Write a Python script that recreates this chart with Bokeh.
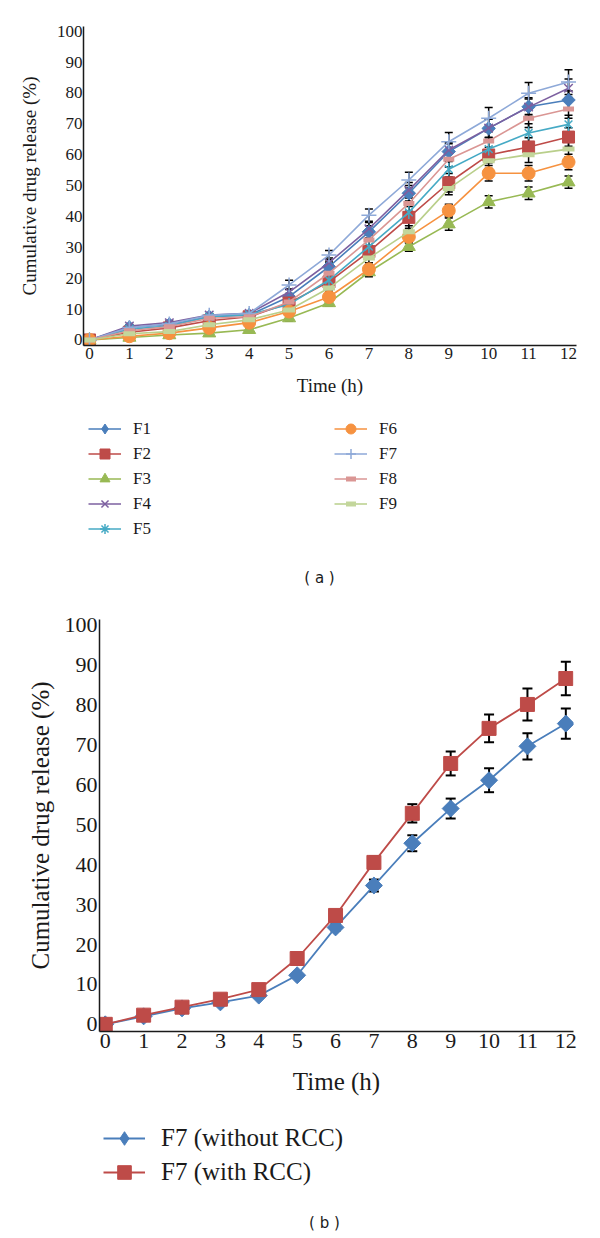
import math
from bokeh.plotting import figure
from bokeh.models import (Range1d, Legend, LegendItem, Whisker, ColumnDataSource,
                          TeeHead, Label, FixedTicker)
from bokeh.embed import file_html
from bokeh.resources import INLINE

# ---------------- data ----------------
hours = list(range(13))
y_ticks = list(range(0, 101, 10))

F1 = [0, 4.0, 5.0, 7.5, 8.0, 14.0, 23.7, 35.0, 47.5, 61.0, 68.5, 75.5, 77.7]
F2 = [0, 2.5, 3.9, 6.2, 7.5, 12.0, 18.8, 28.6, 39.7, 50.9, 59.9, 62.5, 65.7]
F3 = [0, 0.8, 1.6, 2.2, 3.3, 7.1, 12.0, 22.0, 30.2, 37.5, 44.7, 47.5, 51.1]
F4 = [0, 4.5, 5.6, 8.1, 8.6, 15.5, 25.0, 36.0, 48.5, 61.5, 68.6, 75.4, 81.5]
F5 = [0, 3.5, 4.5, 7.5, 8.2, 11.5, 19.4, 30.2, 41.3, 55.3, 61.8, 67.0, 69.8]
F6 = [0, 1.2, 2.2, 3.9, 5.6, 9.2, 13.9, 22.9, 33.4, 41.9, 54.0, 54.0, 57.6]
F7 = [0, 4.0, 5.2, 8.0, 8.6, 17.8, 27.5, 40.4, 51.8, 64.2, 71.8, 79.9, 83.5]
F8 = [0, 3.0, 4.3, 7.0, 7.5, 12.3, 21.6, 32.4, 44.2, 58.5, 64.4, 71.8, 74.8]
F9 = [0, 2.0, 2.7, 4.9, 6.5, 9.7, 16.8, 26.5, 35.0, 49.0, 58.0, 60.0, 61.8]

F1_err = [0, 0.5, 0.5, 0.5, 0.5, 1.0, 1.5, 2.0, 2.5, 2.5, 3.0, 2.5, 3.0]
F2_err = [0, 0.5, 0.5, 0.5, 0.5, 1.0, 1.5, 2.0, 3.5, 3.0, 2.5, 3.0, 3.0]
F3_err = [0, 0.3, 0.3, 0.3, 0.5, 1.0, 1.0, 1.5, 1.5, 2.0, 2.0, 2.0, 2.0]
F4_err = [0, 0.5, 0.5, 0.5, 0.5, 1.0, 1.5, 2.0, 2.5, 2.5, 3.0, 3.0, 3.0]
F5_err = [0, 0.5, 0.5, 0.5, 0.5, 1.0, 1.5, 2.0, 2.5, 2.5, 3.0, 3.0, 3.0]
F6_err = [0, 0.3, 0.3, 0.3, 0.5, 1.0, 1.0, 1.5, 2.0, 2.0, 2.5, 2.5, 2.5]
F7_err = [0, 0.5, 0.5, 0.5, 0.5, 1.5, 1.5, 2.0, 2.5, 3.0, 3.5, 3.5, 4.0]
F8_err = [0, 0.5, 0.5, 0.5, 0.5, 1.0, 1.5, 2.0, 2.5, 2.5, 3.0, 3.0, 3.0]
F9_err = [0, 0.3, 0.3, 0.3, 0.5, 1.0, 1.0, 1.5, 2.0, 2.0, 2.5, 2.5, 2.5]

without_rcc = [0, 2.0, 4.0, 5.5, 7.2, 12.3, 24.3, 34.8, 45.4, 54.1, 61.2, 69.7, 75.4]
with_rcc = [0, 2.3, 4.3, 6.3, 8.7, 16.5, 27.3, 40.6, 52.9, 65.4, 74.2, 80.2, 86.7]
without_rcc_err = [0, 0.3, 0.3, 0.3, 0.5, 0.5, 0.8, 1.5, 2.0, 2.5, 3.0, 3.3, 3.8]
with_rcc_err = [0, 0.3, 0.3, 0.3, 0.5, 0.5, 0.8, 1.5, 2.3, 3.0, 3.5, 4.0, 4.2]

SERIF = "Liberation Serif"
SANS = "DejaVu Sans"
INK = "#1a1a1a"


def style_axes(p, tick_size, title_size, x_std, y_std, xlab_std, ylab_std):
    p.xgrid.visible = False
    p.ygrid.visible = False
    p.outline_line_color = None
    p.xaxis.ticker = FixedTicker(ticks=hours)
    p.yaxis.ticker = FixedTicker(ticks=y_ticks)
    for ax in (p.xaxis, p.yaxis):
        ax.major_tick_line_color = None
        ax.minor_tick_line_color = None
        ax.major_tick_out = 0
        ax.major_tick_in = 0
        ax.minor_tick_out = 0
        ax.minor_tick_in = 0
        ax.axis_line_color = INK
        ax.axis_line_width = 1.5
        ax.major_label_text_font = SERIF
        ax.major_label_text_font_size = tick_size
        ax.major_label_text_color = INK
        ax.axis_label_text_font = SERIF
        ax.axis_label_text_font_size = title_size
        ax.axis_label_text_font_style = "normal"
        ax.axis_label_text_color = INK
    p.xaxis.major_label_standoff = x_std
    p.yaxis.major_label_standoff = y_std
    p.xaxis.axis_label = "Time (h)"
    p.yaxis.axis_label = "Cumulative drug release (%)"
    p.xaxis.axis_label_standoff = xlab_std
    p.yaxis.axis_label_standoff = ylab_std


def add_err(p, vals, errs, size, width):
    xs, up, lo = [], [], []
    for h, v, e in zip(hours, vals, errs):
        if e > 0:
            xs.append(h)
            up.append(v + e)
            lo.append(v - e)
    src = ColumnDataSource(dict(base=xs, upper=up, lower=lo))
    w = Whisker(source=src, base="base", upper="upper", lower="lower",
                dimension="height", line_color="black", line_width=width,
                upper_head=TeeHead(size=size, line_color="black", line_width=width),
                lower_head=TeeHead(size=size, line_color="black", line_width=width),
                level="underlay")
    p.add_layout(w)


def key_figure(width, height):
    # a figure whose frame is the whole canvas; it holds the legend and the caption
    f = figure(width=width, height=height,
               x_range=Range1d(0, width), y_range=Range1d(0, height),
               x_axis_location=None, y_axis_location=None,
               min_border_left=0, min_border_right=0, min_border_top=0,
               min_border_bottom=0, output_backend="svg", toolbar_location=None)
    f.outline_line_color = None
    f.xgrid.visible = False
    f.ygrid.visible = False
    return f


# ---------------- panel (a) ----------------
p1 = figure(frame_width=493, frame_height=319,
            x_range=Range1d(-0.15, 12.2), y_range=Range1d(-1.8, 101.5),
            min_border_left=83, min_border_right=4, min_border_top=26,
            min_border_bottom=60, output_backend="svg", toolbar_location=None)
style_axes(p1, "17px", "19px", 2, 1, 13, 14)

# (name, values, errors, line colour, marker colour, plot markers, legend markers)
series = [
    ("F1", F1, F1_err, "#4A7EBB", "#4A7EBB",
     [dict(marker="square", size=9.5, angle=math.pi / 4)], [dict(marker="diamond")]),
    ("F2", F2, F2_err, "#BE4B48", "#BE4B48", [dict(marker="square", size=12)], None),
    ("F3", F3, F3_err, "#98B954", "#98B954", [dict(marker="triangle", size=13)], None),
    ("F4", F4, F4_err, "#7D60A0", "#7D60A0", [dict(marker="x", size=12, line_width=1.5)], None),
    ("F5", F5, F5_err, "#46AAC5", "#46AAC5",
     [dict(marker="x", size=11, line_width=1.5),
      dict(marker="dash", size=13, angle=math.pi / 2, line_width=1.5)],
     [dict(marker="asterisk", line_width=1.5)]),
    ("F6", F6, F6_err, "#F69240", "#F69240", [dict(marker="circle", size=13)], None),
    ("F7", F7, F7_err, "#8EA9D8", "#8EA9D8", [dict(marker="cross", size=15, line_width=1.5)], None),
    ("F8", F8, F8_err, "#DA9694", "#DA9694", [dict(marker="dash", size=11, line_width=5)], None),
    ("F9", F9, F9_err, "#B9CF8B", "#C3D69B", [dict(marker="dash", size=12, line_width=5)], None),
]

k1 = key_figure(584, 195)
items = []
for name, vals, errs, lc, mc, marks, key_marks in series:
    add_err(p1, vals, errs, 8, 1.5)
    p1.line(hours, vals, line_color=lc, line_width=1.6)
    for m in marks:
        p1.scatter(hours, vals, fill_color=mc, line_color=mc, **m)
    rs = [k1.line(hours, vals, line_color=lc, line_width=1.6, visible=False)]
    for m in (key_marks or marks):
        rs.append(k1.scatter(hours, vals, fill_color=mc, line_color=mc, visible=False, **m))
    items.append(LegendItem(label=name, renderers=rs))

leg1 = Legend(items=items, orientation="vertical", nrows=5,
              location=(88, 59), glyph_width=33, glyph_height=25,
              label_height=20, label_width=201, label_standoff=12, spacing=0,
              padding=0, margin=0, border_line_alpha=0, background_fill_alpha=0,
              label_text_font=SERIF, label_text_font_size="17px",
              label_text_color=INK, click_policy="none")
k1.add_layout(leg1, "center")
k1.add_layout(Label(x=319, y=23, text="( a )", text_align="center",
                    text_baseline="middle", text_font=SANS,
                    text_font_size="15px", text_color=INK))

# ---------------- panel (b) ----------------
p2 = figure(frame_width=474, frame_height=412,
            x_range=Range1d(-0.15, 12.2), y_range=Range1d(-1.8, 101.5),
            min_border_left=99, min_border_right=4, min_border_top=19,
            min_border_bottom=70, output_backend="svg", toolbar_location=None)
style_axes(p2, "22px", "25px", 2, 2, 17, 8)

bseries = [
    ("F7 (without RCC)", without_rcc, without_rcc_err, "#4A7EBB",
     dict(marker="square", size=12, angle=math.pi / 4), dict(marker="diamond")),
    ("F7 (with RCC)", with_rcc, with_rcc_err, "#BE4B48",
     dict(marker="square", size=14), dict(marker="square")),
]
k2 = key_figure(584, 137)
items2 = []
for name, vals, errs, col, m, km in bseries:
    add_err(p2, vals, errs, 10, 2)
    p2.line(hours, vals, line_color=col, line_width=1.8)
    p2.scatter(hours, vals, fill_color=col, line_color=col, **m)
    r1 = k2.line(hours, vals, line_color=col, line_width=1.8, visible=False)
    r2 = k2.scatter(hours, vals, fill_color=col, line_color=col, visible=False, **km)
    items2.append(LegendItem(label=name, renderers=[r1, r2]))

leg2 = Legend(items=items2, orientation="vertical",
              location=(103, 49), glyph_width=42, glyph_height=34,
              label_height=28, label_standoff=16, spacing=0,
              padding=0, margin=0, border_line_alpha=0, background_fill_alpha=0,
              label_text_font=SERIF, label_text_font_size="25px",
              label_text_color=INK, click_policy="none")
k2.add_layout(leg2, "center")
k2.add_layout(Label(x=324, y=16, text="( b )", text_align="center",
                    text_baseline="middle", text_font=SANS,
                    text_font_size="15px", text_color=INK))

# each piece is its own root, stacked top to bottom on the page
open("out.html", "w").write(file_html([p1, k1, p2, k2], INLINE))
